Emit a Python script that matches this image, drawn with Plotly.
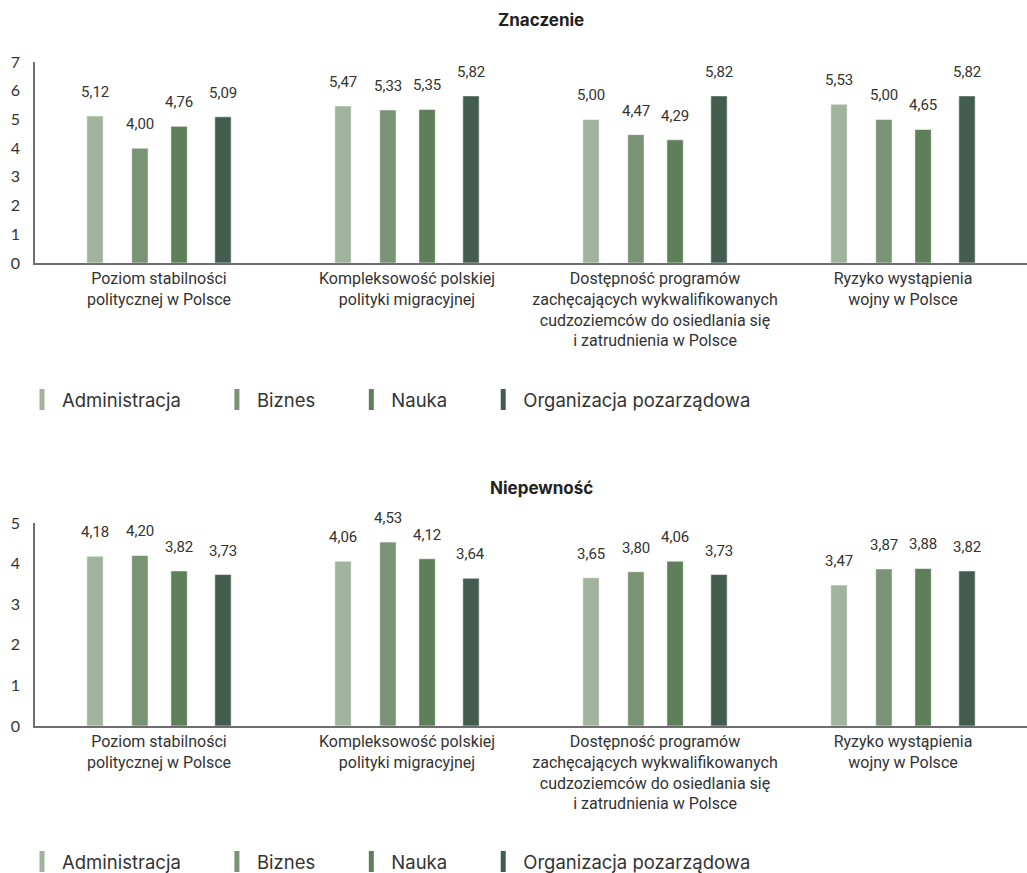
import plotly.graph_objects as go

# Factors assessed (x-axis categories)
categories = [
    "Poziom stabilności<br>politycznej w Polsce",
    "Kompleksowość polskiej<br>polityki migracyjnej",
    "Dostępność programów<br>zachęcających wykwalifikowanych<br>cudzoziemców do osiedlania się<br>i zatrudnienia w Polsce",
    "Ryzyko wystąpienia<br>wojny w Polsce",
]

groups = ["Administracja", "Biznes", "Nauka", "Organizacja pozarządowa"]

# Znaczenie (importance) – mean scores per group
znaczenie_administracja = [5.12, 5.47, 5.00, 5.53]
znaczenie_biznes = [4.00, 5.33, 4.47, 5.00]
znaczenie_nauka = [4.76, 5.35, 4.29, 4.65]
znaczenie_organizacja = [5.09, 5.82, 5.82, 5.82]

# Niepewność (uncertainty) – mean scores per group
niepewnosc_administracja = [4.18, 4.06, 3.65, 3.47]
niepewnosc_biznes = [4.20, 4.53, 3.80, 3.87]
niepewnosc_nauka = [3.82, 4.12, 4.06, 3.88]
niepewnosc_organizacja = [3.73, 3.64, 3.73, 3.82]

znaczenie = [znaczenie_administracja, znaczenie_biznes, znaczenie_nauka, znaczenie_organizacja]
niepewnosc = [niepewnosc_administracja, niepewnosc_biznes, niepewnosc_nauka, niepewnosc_organizacja]

colors = ["#a0b39b", "#7a9276", "#5e7f5a", "#425d4f"]
offsets = [-0.258, -0.077, 0.081, 0.258]
bar_width = 0.066

W, H = 1027, 873
LABEL_FONT = "Roboto, 'Noto Sans', sans-serif"
LEGEND_FONT = "Inter, 'Open Sans', sans-serif"
TEXT = "#333333"
AXIS = "#6e6e6e"
# extra room after each legend entry (en spaces + thin space)
LEGEND_PAD = "\u2002\u2002\u2002\u2009"


def fmt(v):
    return f"{v:.2f}".replace(".", ",")


fig = go.Figure()
annotations = []

panels = [
    (znaczenie, "x", "y", "legend"),
    (niepewnosc, "x2", "y2", "legend2"),
]

for series, xa, ya, _ in panels:
    for gi, values in enumerate(series):
        xs = [i + offsets[gi] for i in range(len(categories))]
        fig.add_trace(go.Bar(
            x=xs, y=values, width=bar_width,
            marker=dict(color=colors[gi], line=dict(color="rgba(255,255,255,0.55)", width=1)),
            xaxis=xa, yaxis=ya, showlegend=False, name=groups[gi],
            hovertemplate="%{y:.2f}<extra>" + groups[gi] + "</extra>",
        ))
        for x, v in zip(xs, values):
            annotations.append(dict(
                x=x, y=v, xref=xa, yref=ya, text=fmt(v), showarrow=False,
                yanchor="bottom", yshift=13,
                font=dict(family=LABEL_FONT, size=15, color=TEXT),
            ))

# Legend entries: narrow vertical swatches
for _, xa, ya, leg in panels:
    for gi, g in enumerate(groups):
        fig.add_trace(go.Scatter(
            x=[None], y=[None], mode="markers",
            name=g + (LEGEND_PAD if gi < len(groups) - 1 else ""),
            marker=dict(symbol="line-ns", size=15, color=colors[gi],
                        line=dict(color=colors[gi], width=5)),
            xaxis=xa, yaxis=ya, legend=leg, showlegend=True, hoverinfo="skip",
        ))

# Panel titles
for text, ypix in [("Znaczenie", 20), ("Niepewność", 488)]:
    annotations.append(dict(
        x=541 / W, y=1 - ypix / H, xref="paper", yref="paper", text=f"<b>{text}</b>",
        showarrow=False, xanchor="center", yanchor="middle",
        font=dict(family=LEGEND_FONT, size=17, color="#222222"),
    ))

xdomain = [35 / W, 1.0]
xaxis_common = dict(
    domain=xdomain, range=[-0.5, 3.5], tickvals=list(range(len(categories))),
    ticktext=categories, showgrid=False, zeroline=False, showline=True,
    linecolor=AXIS, linewidth=1.5, ticks="", tickfont=dict(family=LABEL_FONT, size=16, color=TEXT),
    fixedrange=True,
)
yaxis_common = dict(
    showgrid=False, zeroline=False, showline=True, linecolor=AXIS, linewidth=1.5,
    ticks="", tickfont=dict(family="Lato, 'Open Sans', sans-serif", size=16, color=TEXT),
    dtick=1, fixedrange=True, ticklabelstandoff=10,
)

legend_common = dict(
    orientation="h", xanchor="left", yanchor="middle", x=22 / W,
    font=dict(family=LEGEND_FONT, size=18.5, color=TEXT),
    bgcolor="rgba(0,0,0,0)", itemwidth=30, tracegroupgap=0,
)

fig.update_layout(
    width=W, height=H,
    margin=dict(l=0, r=0, t=0, b=0, autoexpand=False),
    paper_bgcolor="white", plot_bgcolor="white",
    barmode="overlay",
    xaxis=dict(**xaxis_common, anchor="y"),
    yaxis=dict(**yaxis_common, domain=[1 - 263 / H, 1 - 62 / H], range=[0, 7], anchor="x"),
    xaxis2=dict(**xaxis_common, anchor="y2"),
    yaxis2=dict(**yaxis_common, domain=[1 - 726 / H, 1 - 523 / H], range=[0, 5], anchor="x2"),
    legend=dict(**legend_common, y=1 - 400 / H),
    legend2=dict(**legend_common, y=1 - 862 / H),
    annotations=annotations,
)

fig.write_html("out.html")
